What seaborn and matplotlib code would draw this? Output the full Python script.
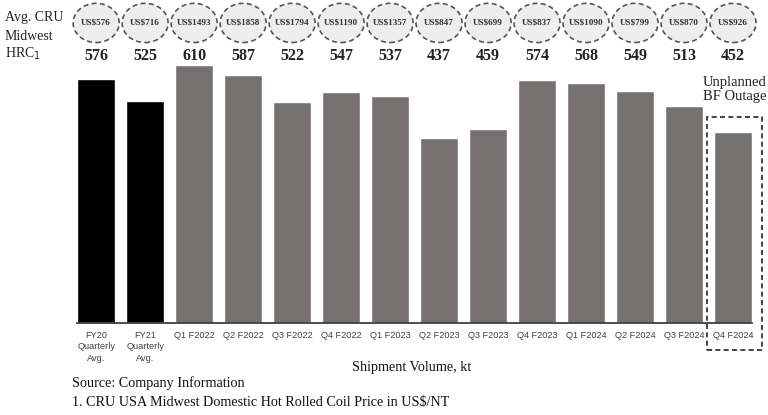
import matplotlib
matplotlib.use("Agg")
import matplotlib.pyplot as plt
import matplotlib.transforms as mtransforms
from matplotlib.patches import Ellipse, Rectangle
import seaborn as sns
import pandas as pd

periods = ["FY20\nQuarterly\nAvg.", "FY21\nQuarterly\nAvg.", "Q1 F2022", "Q2 F2022", "Q3 F2022",
           "Q4 F2022", "Q1 F2023", "Q2 F2023", "Q3 F2023", "Q4 F2023", "Q1 F2024",
           "Q2 F2024", "Q3 F2024", "Q4 F2024"]
shipments = [576, 525, 610, 587, 522, 547, 537, 437, 459, 574, 568, 549, 513, 452]
hrc_price = ["US$576", "US$716", "US$1493", "US$1858", "US$1794", "US$1190", "US$1357",
             "US$847", "US$699", "US$837", "US$1090", "US$799", "US$870", "US$926"]
bar_colors = ["#000000", "#000000"] + ["#767171"] * 12

sns.set_theme(style="white")
serif = ["Liberation Serif", "DejaVu Serif"]
sans = ["Liberation Sans", "DejaVu Sans"]

df = pd.DataFrame({"period": periods, "kt": shipments})

fig = plt.figure(figsize=(7.68, 4.15), dpi=100)
ax = fig.add_axes([0.1003, 0.2217, 0.879, 0.6217])
sns.barplot(data=df, x="period", y="kt", hue="period", palette=bar_colors,
            legend=False, width=0.78, ax=ax, saturation=1)
ax.set_ylim(0, 610)
ax.set_xlim(-0.39, len(periods) - 1 + 0.39)
for s in ["top", "right", "left"]:
    ax.spines[s].set_visible(False)
ax.spines["bottom"].set_color("#404040")
ax.spines["bottom"].set_linewidth(1.3)
ax.set_yticks([])
ax.set_xlabel("")
ax.set_ylabel("")
ax.tick_params(axis="x", length=0, pad=6)
for lbl in ax.get_xticklabels():
    lbl.set_fontfamily(sans)
    lbl.set_fontsize(6.6)
    lbl.set_color("#404040")
    lbl.set_linespacing(1.3)
    lbl.set_verticalalignment("top")

trans = mtransforms.blended_transform_factory(ax.transData, ax.transAxes)
for i, (p, v) in enumerate(zip(hrc_price, shipments)):
    e = Ellipse((i, 1.163), width=0.94, height=0.152, transform=trans,
                facecolor="#eeeeee", edgecolor="#555555", linestyle=(0, (3, 2)),
                linewidth=1.2, clip_on=False)
    ax.add_patch(e)
    ax.text(i, 1.163, p, transform=trans, ha="center", va="center",
            fontsize=6.6, fontweight="bold", family=serif, color="#333333")
    ax.text(i, 1.035, str(v), transform=trans, ha="center", va="center",
            fontsize=11.5, fontweight="bold", family=serif, color="#222222")

# dashed outage box
n = len(periods) - 1
rect = Rectangle((n - 0.54, -64), 1.14, 487 + 64, transform=ax.transData,
                 fill=False, edgecolor="#222222", linestyle=(0, (3, 2)),
                 linewidth=1.2, clip_on=False)
ax.add_patch(rect)
ax.text(n + 0.03, 0.905, "Unplanned\nBF Outage", transform=trans, ha="center",
        va="center", fontsize=10.5, family=serif, color="#222222", linespacing=1.15)

for txt, ypx in [("Avg. CRU", 18), ("Midwest", 36), ("HRC$_{1}$", 54)]:
    fig.text(5 / 768, 1 - ypx / 415, txt, fontsize=10, family=serif, va="center", color="#222222")

fig.text(412 / 768, 1 - 368 / 415, "Shipment Volume, kt", fontsize=10.2, family=serif,
         ha="center", va="center", color="#111111")
fig.text(72 / 768, 1 - 383 / 415, "Source: Company Information", fontsize=10.2,
         family=serif, va="center", color="#111111")
fig.text(72 / 768, 1 - 402 / 415, "1. CRU USA Midwest Domestic Hot Rolled Coil Price in US$/NT",
         fontsize=10.2, family=serif, va="center", color="#111111")

fig.savefig("out.png", dpi=100)
